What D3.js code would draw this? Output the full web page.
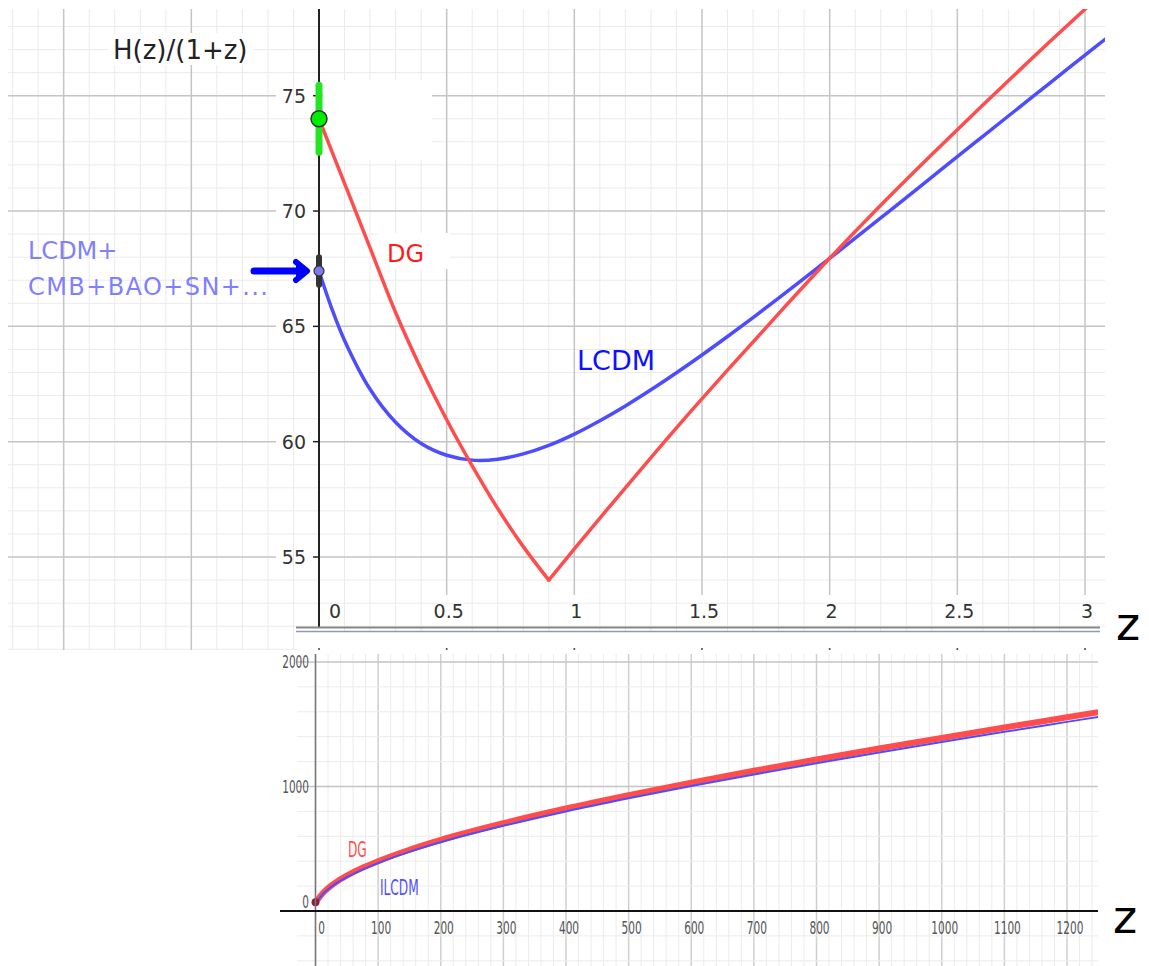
<!DOCTYPE html>
<html>
<head>
<meta charset="utf-8">
<script src="https://cdn.jsdelivr.net/npm/d3@7/dist/d3.min.js"></script>
<style>
body { margin: 0; background: white; }
svg { display: block; }
text { font-family: "DejaVu Sans", sans-serif; }
</style>
</head>
<body>
<script>
// top panel: H(z)/(1+z) for small z
let zTop = [0, 0.05, 0.1, 0.2, 0.3, 0.4, 0.5, 0.6, 0.7, 0.8, 0.9, 1.0, 1.1, 1.2, 1.3, 1.4, 1.5, 1.6, 1.7, 1.8, 1.9, 2.0, 2.1, 2.2, 2.3, 2.4, 2.5, 2.6, 2.7, 2.8, 2.9, 3.0, 3.1]
let lcdmTop = [67.40, 65.77, 64.39, 62.27, 60.84, 59.92, 59.41, 59.20, 59.24, 59.47, 59.84, 60.33, 60.91, 61.55, 62.25, 62.99, 63.76, 64.56, 65.38, 66.22, 67.08, 67.95, 68.82, 69.70, 70.58, 71.47, 72.36, 73.24, 74.12, 75.00, 75.88, 76.76, 77.63]
// DG has a kink at its minimum, so two arms
let dgLeftZ = [0, 0.1, 0.2, 0.3, 0.4, 0.5, 0.6, 0.7, 0.8, 0.9]
let dgLeft = [74.0, 71.2, 68.4, 65.6, 63.15, 60.95, 58.95, 57.1, 55.45, 54.0]
let dgRightZ = [0.9, 1.0, 1.2, 1.4, 1.6, 1.8, 2.0, 2.2, 2.4, 2.6, 2.8, 3.0, 3.1]
let dgRight = [54.0, 55.35, 58.0, 60.6, 63.1, 65.55, 67.95, 70.25, 72.45, 74.6, 76.7, 78.75, 79.75]
// measured H0 points with error bars
let h0Local = [74.0, 1.45]
let h0Cmb = [67.4, 0.6]
let xTicksTop = [0, 0.5, 1, 1.5, 2, 2.5, 3]
let xTickLabelsTop = ['0', '0.5', '1', '1.5', '2', '2.5', '3']
let yTicksTop = [55, 60, 65, 70, 75]

// bottom panel: same quantity out to z ~ 1250
let zBot = [0, 5, 10, 20, 35, 50, 75, 100, 150, 200, 300, 400, 500, 600, 700, 800, 900, 1000, 1100, 1200, 1250]
let lcdmBot = [67, 93, 126, 174, 228, 272, 333, 385, 475, 552, 684, 800, 905, 1004, 1097, 1187, 1273, 1357, 1439, 1519, 1559]
let dgBot = [74, 101, 134, 183, 239, 284, 347, 400, 492, 571, 705, 823, 930, 1031, 1126, 1217, 1305, 1390, 1474, 1556, 1597]
let xTicksBot = [0, 100, 200, 300, 400, 500, 600, 700, 800, 900, 1000, 1100, 1200]
let yTicksBot = [0, 1000, 2000]

let svg = d3.select('body')
    .append('svg')
    .attr('width', 1149)
    .attr('height', 966)
    .style('background', 'white')

//---------- top panel
let x = d3.scaleLinear().domain([0, 3]).range([319, 1085])
let y = d3.scaleLinear().domain([55, 75]).range([557, 95.7])
let L = 8, R = 1105, T = 9, B = 650

let gTop = svg.append('g')

// minor grid
d3.range(-12, 31).forEach(function(i){
  let px = x(i / 10)
  if (px < L || px > R || i % 5 == 0) return
  gTop.append('line')
      .attr('x1', px).attr('x2', px).attr('y1', T).attr('y2', B)
      .style('stroke', '#ebebeb').style('stroke-width', 1)
})
d3.range(51, 79).forEach(function(v){
  let py = y(v)
  if (py < T || py > B || v % 5 == 0) return
  gTop.append('line')
      .attr('x1', L).attr('x2', R).attr('y1', py).attr('y2', py)
      .style('stroke', '#ebebeb').style('stroke-width', 1)
})
// major grid
d3.range(-2, 7).forEach(function(i){
  let px = x(i / 2)
  if (px < L || px > R || i == 0) return
  gTop.append('line')
      .attr('x1', px).attr('x2', px).attr('y1', T).attr('y2', i < 0 ? B : 595)
      .style('stroke', '#c4c4c4').style('stroke-width', 1.5)
})
yTicksTop.forEach(function(v){
  gTop.append('line')
      .attr('x1', L).attr('x2', 276).attr('y1', y(v)).attr('y2', y(v))
      .style('stroke', '#c4c4c4').style('stroke-width', 1.5)
  gTop.append('line')
      .attr('x1', x(0)).attr('x2', R).attr('y1', y(v)).attr('y2', y(v))
      .style('stroke', '#c4c4c4').style('stroke-width', 1.5)
})

// white label boxes
gTop.append('rect').attr('x', 323).attr('y', 80).attr('width', 109).attr('height', 80).style('fill', 'white')
gTop.append('rect').attr('x', 378).attr('y', 233).attr('width', 72).attr('height', 36).style('fill', 'white')

// curves
svg.append('clipPath').attr('id', 'clipTop')
    .append('rect').attr('x', L).attr('y', T).attr('width', R - L).attr('height', 628 - T)
let line = d3.line().x(d => x(d[0])).y(d => y(d[1])).curve(d3.curveCatmullRom.alpha(0.5))
let curves = gTop.append('g').attr('clip-path', 'url(#clipTop)')
curves.append('path')
    .attr('d', line(zTop.map((z, i) => [z, lcdmTop[i]])))
    .style('fill', 'none').style('stroke', '#4d4dff').style('stroke-width', 3.5)
curves.append('path')
    .attr('d', line(dgLeftZ.map((z, i) => [z, dgLeft[i]])))
    .style('fill', 'none').style('stroke', '#ff4d4d').style('stroke-width', 3.5)
    .style('stroke-linecap', 'round')
curves.append('path')
    .attr('d', line(dgRightZ.map((z, i) => [z, dgRight[i]])))
    .style('fill', 'none').style('stroke', '#ff4d4d').style('stroke-width', 3.5)
    .style('stroke-linecap', 'round')

// y axis
gTop.append('line')
    .attr('x1', x(0)).attr('x2', x(0)).attr('y1', T).attr('y2', 628)
    .style('stroke', '#222').style('stroke-width', 2)
yTicksTop.forEach(function(v){
  gTop.append('line')
      .attr('x1', 313).attr('x2', x(0)).attr('y1', y(v)).attr('y2', y(v))
      .style('stroke', '#222').style('stroke-width', 1.5)
  gTop.append('text')
      .attr('x', 306).attr('y', y(v) + 7)
      .attr('text-anchor', 'end')
      .style('font-size', '19px').style('fill', '#333')
      .text(v)
})
xTicksTop.forEach(function(v, i){
  gTop.append('text')
      .attr('x', i == 0 ? x(v) + 16 : x(v) + 2).attr('y', 618)
      .attr('text-anchor', 'middle')
      .style('font-size', '19px').style('fill', '#333')
      .text(xTickLabelsTop[i])
})

// error bars and points
gTop.append('line')
    .attr('x1', x(0)).attr('x2', x(0)).attr('y1', y(h0Local[0] + h0Local[1])).attr('y2', y(h0Local[0] - h0Local[1]))
    .style('stroke', '#22e622').style('stroke-width', 7).style('stroke-linecap', 'round')
gTop.append('circle')
    .attr('cx', x(0)).attr('cy', y(h0Local[0])).attr('r', 8)
    .style('fill', '#00ee00').style('stroke', '#333').style('stroke-width', 1.5)
gTop.append('line')
    .attr('x1', x(0)).attr('x2', x(0)).attr('y1', y(h0Cmb[0] + h0Cmb[1])).attr('y2', y(h0Cmb[0] - h0Cmb[1]))
    .style('stroke', '#333').style('stroke-width', 6).style('stroke-linecap', 'round')
gTop.append('circle')
    .attr('cx', x(0)).attr('cy', y(h0Cmb[0])).attr('r', 5)
    .style('fill', '#7b7bef').style('stroke', '#333').style('stroke-width', 1.2)

// arrow to the CMB point
gTop.append('path')
    .attr('d', 'M254,' + y(h0Cmb[0]) + ' L302,' + y(h0Cmb[0]))
    .style('stroke', '#0000ff').style('stroke-width', 7).style('stroke-linecap', 'round')
gTop.append('path')
    .attr('d', 'M296,' + (y(h0Cmb[0]) - 9) + ' L307,' + y(h0Cmb[0]) + ' L296,' + (y(h0Cmb[0]) + 9))
    .style('fill', '#0000ff').style('stroke', '#0000ff').style('stroke-width', 6)
    .style('stroke-linejoin', 'round').style('stroke-linecap', 'round')

// labels
gTop.append('rect').attr('x', 108).attr('y', 33).attr('width', 146).attr('height', 32).style('fill', 'white')
gTop.append('text').attr('x', 113).attr('y', 59)
    .style('font-size', '26px').style('fill', '#222').text('H(z)/(1+z)')
gTop.append('text').attr('x', 28).attr('y', 259)
    .style('font-size', '24px').style('fill', '#8080ff').text('LCDM+')
gTop.append('text').attr('x', 28).attr('y', 295)
    .style('font-size', '24px').style('fill', '#8080ff')
    .attr('textLength', 240).text('CMB+BAO+SN+...')
gTop.append('text').attr('x', 387).attr('y', 262)
    .style('font-size', '24px').style('fill', '#ff1a1a').text('DG')
gTop.append('text').attr('x', 577).attr('y', 370)
    .style('font-size', '27px').style('fill', '#1010ff').text('LCDM')

//---------- bottom panel
svg.append('rect').attr('x', 297).attr('y', 632).attr('width', 852).attr('height', 334).style('fill', 'white')

// axis of the top panel, drawn at its lower edge
svg.append('line').attr('x1', 296).attr('x2', 1100).attr('y1', 627.5).attr('y2', 627.5)
    .style('stroke', '#888').style('stroke-width', 2)
svg.append('line').attr('x1', 296).attr('x2', 1100).attr('y1', 631.5).attr('y2', 631.5)
    .style('stroke', '#8c9cac').style('stroke-width', 1.5)
xTicksTop.forEach(function(v){
  svg.append('circle').attr('cx', x(v)).attr('cy', 649).attr('r', 1).style('fill', '#444')
})
svg.append('text').attr('x', 1116).attr('y', 640)
    .style('font-size', '46px').style('fill', '#000').text('z')

let xb = d3.scaleLinear().domain([0, 1200]).range([315.5, 1067])
let yb = d3.scaleLinear().domain([0, 2000]).range([911, 662])
let bL = 297, bR = 1098, bT = 654, bB = 966
let gBot = svg.append('g')

d3.range(0, 63).forEach(function(i){
  let px = xb(i * 20)
  if (px > bR) return
  gBot.append('line')
      .attr('x1', px).attr('x2', px).attr('y1', bT).attr('y2', bB)
      .style('stroke', i % 5 == 0 ? '#cfcfcf' : '#ececec').style('stroke-width', i % 5 == 0 ? 1.5 : 1)
})
d3.range(-2, 11).forEach(function(i){
  let py = yb(i * 200)
  if (py < bT || py > bB) return
  gBot.append('line')
      .attr('x1', bL).attr('x2', bR).attr('y1', py).attr('y2', py)
      .style('stroke', i % 5 == 0 ? '#c4c4c4' : '#ececec').style('stroke-width', i % 5 == 0 ? 1.5 : 1)
})

svg.append('clipPath').attr('id', 'clipBot')
    .append('rect').attr('x', xb(0) - 6).attr('y', bT).attr('width', bR - xb(0) + 6).attr('height', bB - bT)
let lineB = d3.line().x(d => xb(d[0])).y(d => yb(d[1])).curve(d3.curveMonotoneX)
let curvesB = gBot.append('g').attr('clip-path', 'url(#clipBot)')
curvesB.append('path')
    .attr('d', lineB(zBot.map((z, i) => [z, dgBot[i]])))
    .style('fill', 'none').style('stroke', '#ff4d4d').style('stroke-width', 6)
curvesB.append('path')
    .attr('d', lineB(zBot.map((z, i) => [z, lcdmBot[i]])))
    .style('fill', 'none').style('stroke', '#4d4dff').style('stroke-width', 2)
curvesB.append('circle')
    .attr('cx', xb(0)).attr('cy', yb(70)).attr('r', 4)
    .style('fill', '#8a1c3c')

// axes
gBot.append('line').attr('x1', xb(0)).attr('x2', xb(0)).attr('y1', bT).attr('y2', bB)
    .style('stroke', '#777').style('stroke-width', 1.5)
gBot.append('line').attr('x1', 280).attr('x2', bR).attr('y1', yb(0)).attr('y2', yb(0))
    .style('stroke', '#111').style('stroke-width', 2)

xTicksBot.forEach(function(v){
  gBot.append('text')
      .attr('transform', 'translate(' + (v == 0 ? xb(v) + 6 : xb(v) + 3) + ',934) scale(0.62,1)')
      .attr('text-anchor', 'middle')
      .style('font-size', '17px').style('fill', '#555')
      .text(v)
})
yTicksBot.forEach(function(v){
  gBot.append('text')
      .attr('transform', 'translate(309,' + (v == 0 ? yb(v) - 3 : yb(v) + 6) + ') scale(0.62,1)')
      .attr('text-anchor', 'end')
      .style('font-size', '17px').style('fill', '#555')
      .text(v)
})
gBot.append('text')
    .attr('transform', 'translate(348,857) scale(0.58,1)')
    .style('font-size', '21px').style('fill', '#ff4d4d').text('DG')
gBot.append('text')
    .attr('transform', 'translate(380,895) scale(0.58,1)')
    .style('font-size', '21px').style('fill', '#5050ff').text('ILCDM')
svg.append('text').attr('x', 1113).attr('y', 933)
    .style('font-size', '46px').style('fill', '#000').text('z')
</script>
</body>
</html>
